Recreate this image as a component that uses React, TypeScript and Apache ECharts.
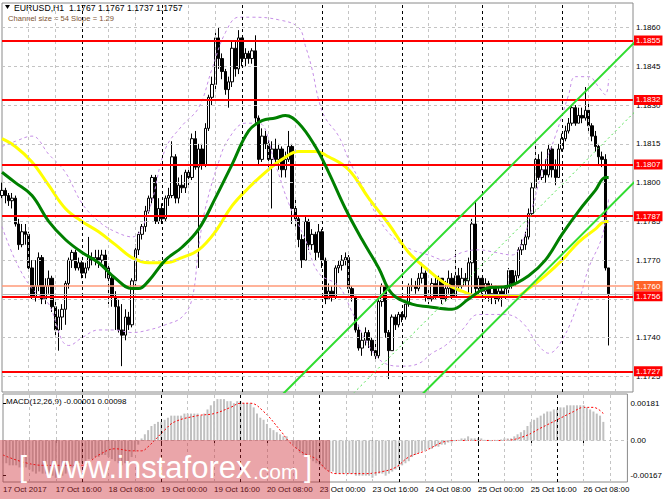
import React, { useEffect, useRef } from "react";
import * as echarts from "echarts";

// ---------- axis / labels ----------
const tradingDays = ["17 Oct", "18 Oct", "19 Oct", "20 Oct", "23 Oct", "24 Oct", "25 Oct", "26 Oct"];
const xTickLabels = [
  "17 Oct 2017", "17 Oct 16:00", "18 Oct 08:00", "19 Oct 00:00", "19 Oct 16:00", "20 Oct 08:00",
  "23 Oct 00:00", "23 Oct 16:00", "24 Oct 08:00", "25 Oct 00:00", "25 Oct 16:00", "26 Oct 08:00",
];
const barsPerLabel = 16;
const barsPerDay = 24;
const barsPerGridLine = 8;
const XMAX = 189.3; // visible bars incl. chart shift
const priceTicks = [1.1725, 1.174, 1.1755, 1.177, 1.1785, 1.18, 1.1815, 1.183, 1.1845, 1.186];
const macdTicks = [0.00181, 0, -0.00167];
const PMIN = 1.1719;
const PMAX = 1.18695;
const MMIN = -0.002005;
const MMAX = 0.002246;

// ---------- horizontal levels ----------
const redLevels = [1.1855, 1.1832, 1.1807, 1.1787, 1.1756, 1.1727];
const orangeLevel = 1.176;
const bidLevel = 1.1757;

// ---------- header texts ----------
const symbolName = "EURUSD,H1";
const channelSizePips = 54;
const channelSlope = 1.29;
const macdHeader = { params: "MACD(12,26,9)", main: "-0.00001", signal: "0.00098" };

// ---------- H1 candles ----------
const firstOpen = 1.1795;
const closes = [
  1.1797, 1.1795, 1.1793, 1.1794, 1.1784, 1.1776, 1.1781, 1.178, 1.1767, 1.1756,
  1.176, 1.1771, 1.1755, 1.176, 1.1763, 1.1752, 1.1743, 1.1748, 1.1751, 1.1761,
  1.177, 1.1773, 1.1767, 1.1769, 1.1765, 1.1767, 1.1771, 1.177, 1.1771, 1.177,
  1.1772, 1.1767, 1.1763, 1.1756, 1.1752, 1.1743, 1.1741, 1.1748, 1.1745, 1.1762,
  1.1774, 1.178, 1.1783, 1.1789, 1.1794, 1.1802, 1.1785, 1.179, 1.1786, 1.1794,
  1.1795, 1.181, 1.1794, 1.1799, 1.1798, 1.1804, 1.1802, 1.1817, 1.1806, 1.1813,
  1.1807, 1.1821, 1.1833, 1.1838, 1.1856, 1.1848, 1.1843, 1.1836, 1.1839, 1.1852,
  1.1844, 1.1856, 1.1848, 1.185, 1.1848, 1.1851, 1.1825, 1.1809, 1.1818, 1.1815,
  1.1809, 1.1813, 1.1809, 1.1813, 1.1805, 1.1809, 1.1814, 1.179, 1.1786, 1.1778,
  1.177, 1.1785, 1.1776, 1.178, 1.1773, 1.1781, 1.177, 1.1755, 1.1758, 1.1756,
  1.1767, 1.1768, 1.177, 1.1771, 1.1759, 1.1756, 1.1743, 1.1736, 1.1739, 1.1742,
  1.1739, 1.1735, 1.1733, 1.1754, 1.176, 1.1742, 1.1735, 1.1748, 1.1745, 1.1749,
  1.1748, 1.1753, 1.176, 1.176, 1.1759, 1.1763, 1.1765, 1.1756, 1.1755, 1.1761,
  1.1756, 1.1763, 1.1755, 1.1759, 1.1763, 1.1756, 1.1764, 1.176, 1.1763, 1.1762,
  1.1769, 1.1784, 1.1759, 1.1763, 1.1758, 1.1761, 1.1757, 1.176, 1.1755, 1.1758,
  1.1756, 1.1759, 1.1766, 1.1761, 1.1764, 1.1774, 1.1776, 1.1779, 1.1788, 1.1798,
  1.1809, 1.1802, 1.1805, 1.1803, 1.1813, 1.1805, 1.1802, 1.1813, 1.1817, 1.182,
  1.1823, 1.1829, 1.1823, 1.1826, 1.1825, 1.1828, 1.1822, 1.1818, 1.1814, 1.181,
  1.1809, 1.1767, 1.1757,
];
const highs = [
  1.18, 1.1798, 1.1796, 1.1796, 1.1795, 1.1786, 1.1784, 1.1784, 1.1781, 1.177,
  1.177, 1.1773, 1.1772, 1.1763, 1.1766, 1.1764, 1.1755, 1.1751, 1.1753, 1.1762,
  1.1771, 1.1774, 1.1774, 1.1771, 1.177, 1.1769, 1.1779, 1.1773, 1.1774, 1.1774,
  1.1774, 1.1774, 1.1768, 1.1764, 1.1758, 1.1755, 1.1753, 1.1751, 1.175, 1.1763,
  1.1776, 1.1781, 1.1784, 1.1791, 1.1795, 1.1803, 1.1803, 1.1794, 1.1792, 1.1795,
  1.1798, 1.1816, 1.1811, 1.1802, 1.1803, 1.1805, 1.1806, 1.1819, 1.182, 1.1815,
  1.1815, 1.1823, 1.1834, 1.1841, 1.1858, 1.186, 1.185, 1.1844, 1.1841, 1.1855,
  1.1855, 1.1859, 1.1853, 1.1852, 1.1851, 1.1852, 1.1857, 1.1826, 1.1821, 1.182,
  1.1817, 1.1816, 1.1817, 1.1815, 1.1814, 1.1812, 1.182, 1.1815, 1.1794, 1.1787,
  1.178, 1.1787, 1.1786, 1.1782, 1.1781, 1.1784, 1.1782, 1.1771, 1.1761, 1.176,
  1.1768, 1.177, 1.1772, 1.1773, 1.1772, 1.176, 1.1756, 1.1745, 1.1742, 1.1744,
  1.1743, 1.174, 1.1739, 1.1756, 1.1761, 1.176, 1.1743, 1.1749, 1.1749, 1.175,
  1.175, 1.1753, 1.1761, 1.1763, 1.1762, 1.1765, 1.1769, 1.1766, 1.1759, 1.1763,
  1.1764, 1.1764, 1.1763, 1.1762, 1.1766, 1.1765, 1.1774, 1.1767, 1.1767, 1.1765,
  1.1771, 1.1786, 1.1793, 1.1764, 1.1763, 1.1763, 1.1762, 1.1761, 1.176, 1.176,
  1.176, 1.176, 1.1767, 1.1766, 1.1766, 1.1775, 1.1778, 1.1781, 1.179, 1.18,
  1.1816, 1.1811, 1.1812, 1.1809, 1.1815, 1.1814, 1.1809, 1.1815, 1.1819, 1.1822,
  1.1825, 1.183, 1.183, 1.1829, 1.1829, 1.1837, 1.1831, 1.1823, 1.182, 1.1815,
  1.1812, 1.1811, 1.1767,
];
const lows = [
  1.1794, 1.1792, 1.1791, 1.179, 1.1783, 1.1774, 1.1775, 1.1776, 1.1766, 1.1755,
  1.1754, 1.1758, 1.1753, 1.1753, 1.1757, 1.175, 1.1741, 1.1735, 1.1743, 1.1745,
  1.1759, 1.1767, 1.1766, 1.1766, 1.1763, 1.1763, 1.1766, 1.1768, 1.1768, 1.1767,
  1.1769, 1.1763, 1.1753, 1.1752, 1.1743, 1.1742, 1.1729, 1.1739, 1.1743, 1.1744,
  1.176, 1.1772, 1.1778, 1.1781, 1.1788, 1.1792, 1.1784, 1.1784, 1.1784, 1.1785,
  1.1791, 1.1794, 1.1792, 1.1792, 1.1796, 1.1796, 1.1799, 1.1801, 1.1805, 1.1767,
  1.1805, 1.1806, 1.182, 1.183, 1.1836, 1.1844, 1.184, 1.1834, 1.1829, 1.1837,
  1.1841, 1.1842, 1.1845, 1.1845, 1.1846, 1.1846, 1.1823, 1.1807, 1.1808, 1.1813,
  1.1806, 1.179, 1.1807, 1.1805, 1.1802, 1.1802, 1.1808, 1.1784, 1.1783, 1.1775,
  1.1767, 1.177, 1.1774, 1.1774, 1.177, 1.1771, 1.1767, 1.1753, 1.1755, 1.1754,
  1.1755, 1.1765, 1.1766, 1.1768, 1.1757, 1.1754, 1.1742, 1.1735, 1.1733, 1.1737,
  1.1736, 1.1733, 1.1731, 1.1732, 1.1752, 1.174, 1.1724, 1.1735, 1.1743, 1.1744,
  1.1746, 1.1747, 1.1752, 1.1758, 1.1757, 1.1758, 1.1761, 1.1754, 1.1753, 1.1754,
  1.1755, 1.1756, 1.1753, 1.1754, 1.1757, 1.1755, 1.1756, 1.1758, 1.1759, 1.176,
  1.1757, 1.1756, 1.1757, 1.1757, 1.1757, 1.1755, 1.1754, 1.1753, 1.1753, 1.1754,
  1.1752, 1.1755, 1.1757, 1.1759, 1.176, 1.1763, 1.1772, 1.1774, 1.1778, 1.1787,
  1.1798, 1.1801, 1.1801, 1.18, 1.1802, 1.1802, 1.1799, 1.1802, 1.1812, 1.1816,
  1.1819, 1.1822, 1.1822, 1.1823, 1.1823, 1.1824, 1.182, 1.1816, 1.1812, 1.1807,
  1.1806, 1.1766, 1.1737,
];

// ---------- indicator lines: [bar, price] ----------
const greenMA = [
  [0, 1.1804], [4, 1.18], [9, 1.1795], [14, 1.1785], [19, 1.1778], [24, 1.1773], [29, 1.1769],
  [34, 1.1763], [39, 1.1759], [41, 1.1759], [44, 1.1762], [49, 1.177], [54, 1.1775], [59, 1.1782],
  [64, 1.1794], [69, 1.1807], [74, 1.182], [78, 1.1824], [82, 1.1825], [85, 1.1826], [89, 1.1823],
  [94, 1.1814], [98, 1.1804], [103, 1.179], [108, 1.1778], [113, 1.1767], [117, 1.1757], [123, 1.1753],
  [128, 1.1752], [135, 1.1751], [140, 1.1755], [145, 1.1759], [152, 1.176], [158, 1.1764], [163, 1.177],
  [168, 1.178], [173, 1.1789], [178, 1.1797], [181, 1.1802], [182, 1.1802],
];
const yellowMA = [
  [0, 1.1817], [4, 1.1814], [9, 1.1808], [14, 1.1799], [19, 1.179], [24, 1.1785], [29, 1.1781],
  [34, 1.1776], [39, 1.1771], [44, 1.1769], [49, 1.1769], [54, 1.1771], [59, 1.1774], [64, 1.1781],
  [69, 1.1791], [74, 1.1798], [79, 1.1804], [84, 1.1809], [89, 1.1812], [94, 1.1812], [98, 1.181],
  [104, 1.1805], [110, 1.1794], [116, 1.1784], [122, 1.1773], [128, 1.1766], [133, 1.1761], [138, 1.1758],
  [143, 1.1756], [148, 1.1756], [154, 1.1756], [158, 1.1759], [163, 1.1764], [168, 1.177], [173, 1.1777],
  [178, 1.1782], [181, 1.1785], [182, 1.1785],
];
const upperBand = [
  [0, 1.1814], [4, 1.1816], [9, 1.1818], [14, 1.1811], [19, 1.1804], [24, 1.1792], [29, 1.1785],
  [34, 1.1781], [39, 1.1779], [44, 1.1789], [49, 1.1813], [54, 1.1822], [59, 1.1829], [63, 1.1844],
  [67, 1.1858], [71, 1.1864], [75, 1.1864], [83, 1.1863], [89, 1.186], [91, 1.1853], [93, 1.1844],
  [95, 1.1832], [97, 1.1825], [101, 1.1818], [104, 1.1809], [108, 1.1799], [113, 1.1786], [118, 1.1778],
  [123, 1.1774], [128, 1.1772], [133, 1.177], [138, 1.1773], [143, 1.1774], [148, 1.1773], [153, 1.1772],
  [156, 1.1777], [159, 1.179], [162, 1.1804], [166, 1.1818], [170, 1.1834], [172, 1.1841], [176, 1.1841],
  [179, 1.1837], [181, 1.1834], [182, 1.184],
];
const lowerBand = [
  [0, 1.1783], [4, 1.177], [9, 1.1759], [14, 1.1753], [18, 1.1739], [20, 1.1737], [24, 1.174],
  [29, 1.1743], [34, 1.1743], [39, 1.1742], [44, 1.1743], [49, 1.1745], [54, 1.1748], [57, 1.1755],
  [59, 1.1775], [61, 1.179], [65, 1.1808], [68, 1.1817], [73, 1.1823], [77, 1.1823], [82, 1.1807],
  [86, 1.1792], [91, 1.1778], [95, 1.1765], [101, 1.176], [105, 1.175], [110, 1.1737], [115, 1.173],
  [120, 1.1729], [125, 1.173], [129, 1.1734], [133, 1.1737], [138, 1.1743], [143, 1.1749], [151, 1.1749],
  [156, 1.1746], [161, 1.1737], [164, 1.1734], [168, 1.1739], [173, 1.1754], [176, 1.1767], [180, 1.1779],
  [182, 1.1794],
];
// equidistant channel (endpoints)
const channelUpper = [[80, 1.17127], [190, 1.18546]];
const channelMiddle = [[80, 1.16857], [190, 1.18276]];
const channelLower = [[80, 1.16587], [190, 1.18006]];

// ---------- MACD ----------
const macdHist = [
  -0.0011, -0.0011, -0.0012, -0.0012, -0.0012, -0.0013, -0.0013, -0.0013, -0.0014, -0.0015,
  -0.0016, -0.0015, -0.0016, -0.0016, -0.0016, -0.0017, -0.0018, -0.0018, -0.0017, -0.0016,
  -0.0014, -0.0013, -0.0012, -0.0011, -0.0011, -0.001, -0.0009, -0.0009, -0.0008, -0.0008,
  -0.0007, -0.0007, -0.0008, -0.0009, -0.001, -0.0011, -0.0012, -0.0011, -0.001, -0.0008,
  -0.0005, -0.0002, 0.0001, 0.0003, 0.0005, 0.0007, 0.0008, 0.0009, 0.0009, 0.001,
  0.0011, 0.0012, 0.0012, 0.0012, 0.0012, 0.0013, 0.0013, 0.0013, 0.0013, 0.0013,
  0.0012, 0.0013, 0.0015, 0.0017, 0.0019, 0.002, 0.002, 0.002, 0.0019, 0.0019,
  0.0018, 0.0019, 0.0019, 0.0018, 0.0018, 0.0018, 0.0016, 0.0013, 0.0011, 0.001,
  0.0008, 0.0006, 0.0005, 0.0004, 0.0003, 0.0002, 0.0002, 0.00002, -0.0002, -0.0004,
  -0.0006, -0.0007, -0.0008, -0.0009, -0.001, -0.0011, -0.0012, -0.0013, -0.0014, -0.0015,
  -0.0015, -0.0016, -0.0016, -0.0016, -0.0016, -0.0016, -0.0016, -0.0017, -0.0017, -0.0017,
  -0.0017, -0.0017, -0.0018, -0.0017, -0.0016, -0.0016, -0.0017, -0.0016, -0.0015, -0.0014,
  -0.0013, -0.0012, -0.0011, -0.001, -0.0008, -0.0007, -0.0006, -0.0005, -0.0005, -0.0004,
  -0.0004, -0.0003, -0.0003, -0.0002, -0.0002, -0.0001, -0.0001, -0.00003, 0.00003, 0.0001,
  0.0001, 0.0002, 0.0001, 0.0001, 0.0001, 0.0001, 0.00003, 0.00003, -0.00003, 0.00003,
  0.00003, 0.00005, 0.0001, 0.0001, 0.0001, 0.0002, 0.0003, 0.0004, 0.0005, 0.0007,
  0.0009, 0.001, 0.0011, 0.0012, 0.0013, 0.0014, 0.0014, 0.0015, 0.0015, 0.0016,
  0.0016, 0.0017, 0.0017, 0.0017, 0.0017, 0.0017, 0.0017, 0.0016, 0.0015, 0.0014,
  0.0013, 0.0012, 0.0009,
];
const macdSignal = [
  [0, -0.0007], [12, -0.0012], [24, -0.0012], [29, -0.0007], [34, -0.0004], [39, -0.0005], [42, -0.0005],
  [44, -0.0003], [49, 0.0005], [52, 0.0009], [59, 0.0012], [64, 0.0013], [69, 0.0016], [72, 0.0018],
  [75, 0.0018], [79, 0.0014], [84, 0.0005], [87, -0.0001], [91, -0.0006], [95, -0.0009], [98, -0.0014],
  [101, -0.0016], [110, -0.0016], [115, -0.0015], [119, -0.0013], [123, -0.0008], [128, -0.0005],
  [133, -0.0001], [136, 0.0], [145, 0.0], [152, 0.0], [158, 0.0002], [163, 0.0006], [168, 0.001],
  [173, 0.0014], [176, 0.0016], [179, 0.0016], [182, 0.0013],
];

const FONT = '"Liberation Sans", Arial, sans-serif';

function buildOption() {
  const candles = closes.map((c, i) => {
    const o = i === 0 ? firstOpen : closes[i - 1];
    return [i, o, c, Math.min(lows[i], o, c), Math.max(highs[i], o, c)];
  });
  const last = candles[candles.length - 1];
  const labelBars = xTickLabels.map((_, k) => k * barsPerLabel);
  const dayStarts = tradingDays.slice(1).map((_, d) => (d + 1) * barsPerDay);
  const gridBars: number[] = [];
  for (let b = barsPerGridLine; b < XMAX; b += barsPerGridLine) {
    if (b % barsPerDay !== 0) gridBars.push(b);
  }
  const greyDash = { color: "#c4c4c4", type: [3, 3], width: 1 };
  const dayDash = { color: "#000000", type: [3, 3], width: 1 };
  const verticalLines = [
    ...gridBars.map((b) => ({ xAxis: b, lineStyle: greyDash })),
    ...dayStarts.map((b) => ({ xAxis: b, lineStyle: dayDash })),
  ];
  const boxLabel = (bg: string) => ({
    show: true,
    position: "end",
    distance: 1,
    formatter: (p: any) => Number(p.value).toFixed(4),
    color: "#ffffff",
    backgroundColor: bg,
    padding: [1, 2, 1, 2],
    fontSize: 8,
    fontFamily: FONT,
  });

  const titleText = `${symbolName}  ${last[1].toFixed(4)} ${last[4].toFixed(4)} ${last[3].toFixed(4)} ${last[2].toFixed(4)}`;
  const lineSeries = (name: string, data: number[][], color: string, width: number, type: any, smooth: number, z: number) => ({
    name,
    type: "line",
    xAxisIndex: 0,
    yAxisIndex: 0,
    data,
    smooth,
    showSymbol: false,
    silent: true,
    z,
    lineStyle: { color, width, type },
  });
  const hiddenPrice = [[0, PMIN], [XMAX, PMIN]];

  return {
    animation: false,
    backgroundColor: "#ffffff",
    grid: [
      { left: 2, right: 32, top: 3, height: 389, show: true, borderColor: "#8a8a8a", borderWidth: 1, backgroundColor: "transparent" },
      { left: 2, right: 32, top: 394, height: 88, show: true, borderColor: "#8a8a8a", borderWidth: 1, backgroundColor: "transparent" },
    ],
    xAxis: [
      { type: "value", gridIndex: 0, min: 0, max: XMAX, show: false },
      {
        type: "value",
        gridIndex: 1,
        min: 0,
        max: XMAX,
        axisLine: { show: false },
        splitLine: { show: false },
        axisTick: { show: true, customValues: labelBars, length: 3, lineStyle: { color: "#000" } },
        axisLabel: {
          customValues: labelBars,
          formatter: (v: number) => xTickLabels[Math.round(v / barsPerLabel)] ?? "",
          align: "left",
          margin: 3,
          fontSize: 8,
          fontFamily: FONT,
          color: "#000",
        },
      },
    ],
    yAxis: [
      {
        type: "value",
        gridIndex: 0,
        position: "right",
        min: PMIN,
        max: PMAX,
        axisLine: { show: false },
        splitLine: { show: false },
        axisTick: { show: true, customValues: priceTicks, length: 3, lineStyle: { color: "#000" } },
        axisLabel: {
          customValues: priceTicks,
          formatter: (v: number) => v.toFixed(4),
          margin: 3,
          fontSize: 8,
          fontFamily: FONT,
          color: "#000",
        },
      },
      {
        type: "value",
        gridIndex: 1,
        position: "right",
        min: MMIN,
        max: MMAX,
        axisLine: { show: false },
        splitLine: { show: false },
        axisTick: { show: true, customValues: macdTicks, length: 3, lineStyle: { color: "#000" } },
        axisLabel: {
          customValues: macdTicks,
          formatter: (v: number) => (v === 0 ? "0.00" : v.toFixed(5)),
          margin: 3,
          fontSize: 8,
          fontFamily: FONT,
          color: "#000",
        },
      },
    ],
    series: [
      {
        name: "priceGrid",
        type: "line",
        xAxisIndex: 0,
        yAxisIndex: 0,
        data: hiddenPrice,
        showSymbol: false,
        lineStyle: { opacity: 0 },
        silent: true,
        z: 1,
        markLine: {
          silent: true,
          animation: false,
          precision: 6,
          symbol: ["none", "none"],
          label: { show: false },
          data: [...priceTicks.map((v) => ({ yAxis: v, lineStyle: greyDash })), ...verticalLines],
        },
      },
      {
        name: "EURUSD",
        type: "candlestick",
        xAxisIndex: 0,
        yAxisIndex: 0,
        data: candles,
        encode: { x: 0, y: [1, 2, 3, 4] },
        barWidth: 3,
        silent: true,
        z: 2,
        itemStyle: { color: "#ffffff", color0: "#000000", borderColor: "#000000", borderColor0: "#000000", borderWidth: 1 },
      },
      {
        name: "levels",
        type: "line",
        xAxisIndex: 0,
        yAxisIndex: 0,
        data: hiddenPrice,
        showSymbol: false,
        lineStyle: { opacity: 0 },
        silent: true,
        z: 3,
        markLine: {
          silent: true,
          animation: false,
          precision: 6,
          symbol: ["none", "none"],
          data: [
            { yAxis: bidLevel, lineStyle: { color: "#b8b8b8", width: 1, type: "solid" }, label: { show: false } },
            { yAxis: orangeLevel, lineStyle: { color: "#ff9a78", width: 1.5, type: "solid" }, label: boxLabel("#ff6428") },
            ...redLevels.map((v) => ({ yAxis: v, lineStyle: { color: "#ff0000", width: 2, type: "solid" }, label: boxLabel("#ff0000") })),
          ],
        },
      },
      lineSeries("upperBand", upperBand, "#c58ee6", 1, [3, 3], 0.4, 3),
      lineSeries("lowerBand", lowerBand, "#c58ee6", 1, [3, 3], 0.4, 3),
      lineSeries("yellowMA", yellowMA, "#ffff00", 3, "solid", 0.4, 4),
      lineSeries("greenMA", greenMA, "#008000", 3, "solid", 0.4, 5),
      lineSeries("channelUpper", channelUpper, "#2fdc2f", 2, "solid", 0, 5),
      lineSeries("channelMiddle", channelMiddle, "#4fe04f", 1, [2, 3], 0, 5),
      lineSeries("channelLower", channelLower, "#2fdc2f", 2, "solid", 0, 5),
      {
        name: "macdGrid",
        type: "line",
        xAxisIndex: 1,
        yAxisIndex: 1,
        data: [[0, 0], [XMAX, 0]],
        showSymbol: false,
        lineStyle: { opacity: 0 },
        silent: true,
        z: 1,
        markLine: {
          silent: true,
          animation: false,
          precision: 6,
          symbol: ["none", "none"],
          label: { show: false },
          data: [{ yAxis: 0, lineStyle: greyDash }, ...verticalLines],
        },
      },
      {
        name: "MACD",
        type: "bar",
        xAxisIndex: 1,
        yAxisIndex: 1,
        data: macdHist.map((v, i) => [i, v]),
        barWidth: 2,
        silent: true,
        z: 2,
        itemStyle: { color: "#c0c0c0" },
      },
      {
        name: "Signal",
        type: "line",
        xAxisIndex: 1,
        yAxisIndex: 1,
        data: macdSignal,
        smooth: 0.4,
        showSymbol: false,
        silent: true,
        z: 3,
        lineStyle: { color: "#ff0000", width: 1, type: [2, 2] },
      },
    ],
    graphic: [
      { type: "polygon", silent: true, shape: { points: [[5, 5], [10, 5], [7.5, 9]] }, style: { fill: "#000" } },
      { type: "text", silent: true, x: 14, y: 7.5, style: { text: titleText, fontSize: 8.7, fontFamily: FONT, fill: "#000", verticalAlign: "middle" } },
      {
        type: "text",
        silent: true,
        x: 8,
        y: 18.5,
        style: { text: `Channel size = ${channelSizePips} Slope = ${channelSlope}`, fontSize: 7.6, fontFamily: FONT, fill: "#7d5230", verticalAlign: "middle" },
      },
      {
        type: "text",
        silent: true,
        x: 6,
        y: 401,
        style: { text: `${macdHeader.params} ${macdHeader.main} ${macdHeader.signal}`, fontSize: 8, fontFamily: FONT, fill: "#000", verticalAlign: "middle" },
      },
      { type: "rect", silent: true, z: 100, shape: { x: 0, y: 440, width: 330, height: 59 }, style: { fill: "rgba(205,40,50,0.42)" } },
      { type: "text", silent: true, z: 101, x: 19, y: 466.5, style: { text: "[", fontSize: 29, fontFamily: FONT, fill: "#ffffff", verticalAlign: "middle" } },
      { type: "text", silent: true, z: 101, x: 43, y: 467.5, style: { text: "www.instaforex", fontSize: 31, fontFamily: FONT, fill: "#ffffff", verticalAlign: "middle" } },
      { type: "text", silent: true, z: 101, x: 253, y: 471, style: { text: ".com", fontSize: 21, fontFamily: FONT, fill: "#ffffff", verticalAlign: "middle" } },
      { type: "text", silent: true, z: 101, x: 304, y: 466.5, style: { text: "]", fontSize: 29, fontFamily: FONT, fill: "#ffffff", verticalAlign: "middle" } },
    ],
  };
}

export default function App() {
  const ref = useRef<HTMLDivElement>(null);
  useEffect(() => {
    const chart = echarts.init(ref.current!, null, { renderer: "svg" });
    chart.setOption(buildOption() as any);
    return () => chart.dispose();
  }, []);
  return <div ref={ref} style={{ position: "fixed", left: 0, top: 0, width: 665, height: 499, background: "#fff" }} />;
}
